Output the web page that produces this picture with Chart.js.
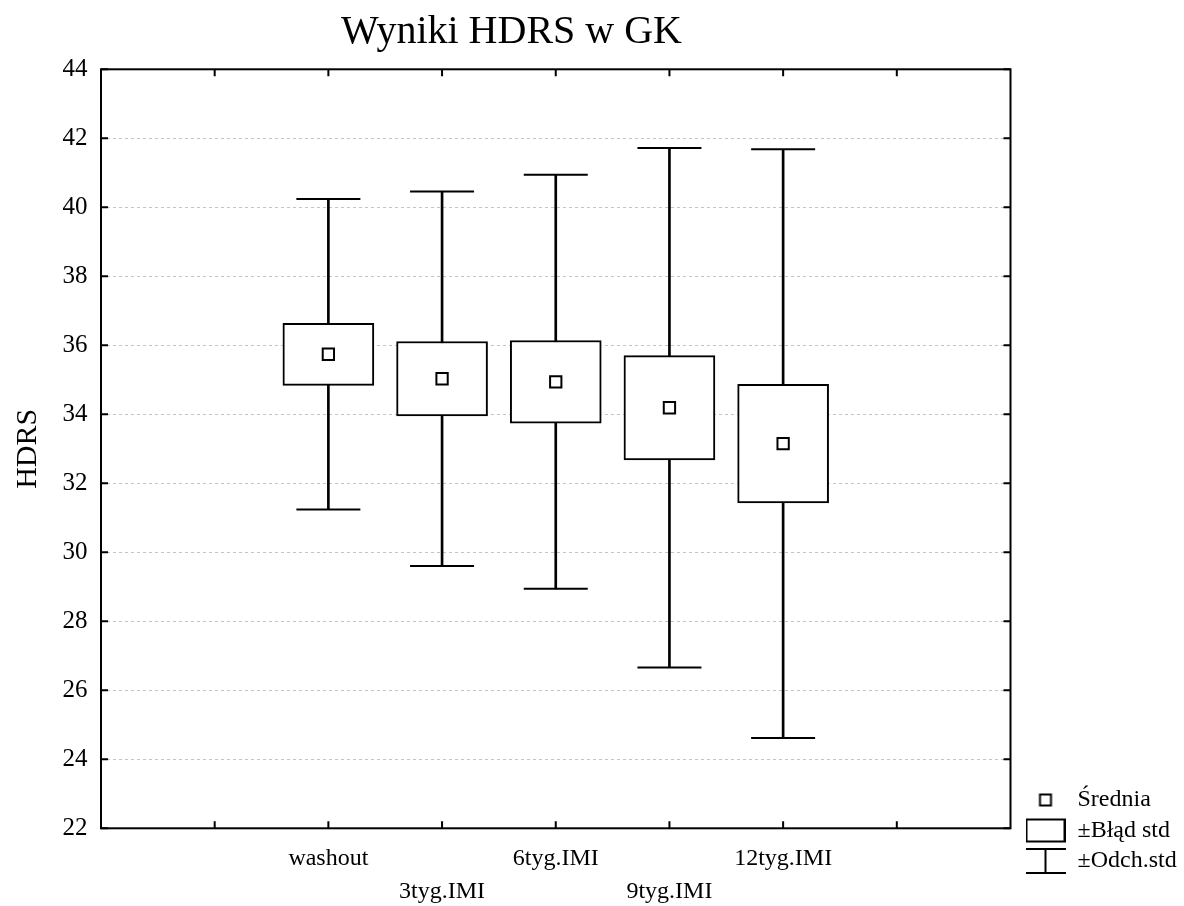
<!DOCTYPE html>
<html>
<head>
<meta charset="utf-8">
<title>Wyniki HDRS w GK</title>
<script src="https://cdn.jsdelivr.net/npm/chart.js@4.4.1/dist/chart.umd.min.js"></script>
<style>
  html, body { margin: 0; padding: 0; background: #fff; }
  #wrap { width: 1184px; height: 906px; }
</style>
</head>
<body>
<div id="wrap"><canvas id="chart" width="1184" height="906"></canvas></div>
<script>
// values: mean, ±standard error box, ±standard deviation whiskers
const categories = ['washout', '3tyg.IMI', '6tyg.IMI', '9tyg.IMI', '12tyg.IMI']
const means = [35.74, 35.03, 34.94, 34.19, 33.15]
const stdErrors = [0.90, 1.08, 1.20, 1.51, 1.72]
const stdDevs = [4.50, 5.43, 6.00, 7.53, 8.53]
const legendLabels = ['Średnia', '±Błąd std', '±Odch.std']

// two empty slots each side of the categories, like the original axis
const slots = ['', ''].concat(categories, ['', ''])

Chart.defaults.font.family = "'Liberation Serif', 'Times New Roman', serif"
Chart.defaults.color = '#000'

// legend symbols
function makeIcon(draw) {
  const c = document.createElement('canvas')
  c.width = 40
  c.height = 26
  const g = c.getContext('2d')
  g.strokeStyle = '#000'
  g.lineWidth = 2
  draw(g)
  return c
}
const legendIcons = [
  makeIcon(g => { g.fillStyle = '#fff'; g.fillRect(14.5, 7.5, 11, 11); g.strokeRect(14.5, 7.5, 11, 11) }),
  makeIcon(g => { g.strokeRect(1, 2, 38, 22) }),
  makeIcon(g => {
    g.beginPath()
    g.moveTo(0, 1); g.lineTo(40, 1)
    g.moveTo(0, 25); g.lineTo(40, 25)
    g.moveTo(20, 1); g.lineTo(20, 25)
    g.stroke()
  })
]

// frame with inward tick marks; title and legend nudged to where the original has them
const framePlugin = {
  id: 'frame',
  afterLayout(chart) {
    const t = chart.titleBlock
    t.left = 0
    t.right = 1023
    t.width = 1023
    const lg = chart.legend
    lg.bottom = 879.5
    lg.height = lg.bottom - lg.top
  },
  afterDatasetsDraw(chart) {
    const {ctx, chartArea: a, scales: {x, y}} = chart
    ctx.save()
    ctx.strokeStyle = '#000'
    ctx.lineWidth = 2
    ctx.beginPath()
    for (let i = 1; i < slots.length - 1; i++) {
      const px = x.getPixelForValue(i)
      ctx.moveTo(px, a.top); ctx.lineTo(px, a.top + 7)
      ctx.moveTo(px, a.bottom); ctx.lineTo(px, a.bottom - 7)
    }
    y.ticks.forEach(t => {
      const py = y.getPixelForValue(t.value)
      ctx.moveTo(a.left, py); ctx.lineTo(a.left + 7, py)
      ctx.moveTo(a.right, py); ctx.lineTo(a.right - 7, py)
    })
    ctx.stroke()
    ctx.strokeRect(a.left, a.top, a.right - a.left, a.bottom - a.top)
    ctx.restore()
  }
}

const ctx = document.getElementById('chart').getContext('2d')

new Chart(ctx, {
  type: 'bar',
  data: {
    labels: slots,
    datasets: [
      {
        type: 'scatter',
        label: 'Średnia',
        data: categories.map((c, i) => ({x: c, y: means[i]})),
        pointStyle: 'rect',
        radius: 8,
        borderWidth: 2,
        borderColor: '#000',
        backgroundColor: '#fff',
        order: 0
      },
      {
        type: 'scatter',
        label: 'caps',
        data: categories.flatMap((c, i) => [
          {x: c, y: means[i] + stdDevs[i]},
          {x: c, y: means[i] - stdDevs[i]}
        ]),
        pointStyle: 'line',
        radius: 32,
        borderWidth: 2,
        borderColor: '#000',
        order: 1
      },
      {
        label: '±Błąd std',
        data: categories.map((c, i) => ({x: c, y: [means[i] - stdErrors[i], means[i] + stdErrors[i]]})),
        barThickness: 91,
        backgroundColor: '#fff',
        borderColor: '#000',
        borderWidth: 2,
        borderSkipped: false,
        grouped: false,
        order: 2
      },
      {
        label: '±Odch.std',
        data: categories.map((c, i) => ({x: c, y: [means[i] - stdDevs[i], means[i] + stdDevs[i]]})),
        barThickness: 2,
        backgroundColor: '#000',
        borderWidth: 0,
        grouped: false,
        order: 3
      }
    ]
  },
  options: {
    responsive: false,
    animation: false,
    events: [],
    layout: {
      padding: 0
    },
    plugins: {
      title: {
        display: true,
        text: 'Wyniki HDRS w GK',
        color: '#000',
        font: {size: 40, weight: 'normal'},
        padding: {top: 8, bottom: 13.3}
      },
      legend: {
        display: true,
        position: 'right',
        align: 'end',
        maxWidth: 165,
        labels: {
          usePointStyle: true,
          pointStyleWidth: 40,
          boxHeight: 24,
          padding: 6.5,
          color: '#000',
          font: {size: 24},
          generateLabels: () => legendLabels.map((text, i) => ({
            text: text,
            pointStyle: legendIcons[i],
            fillStyle: '#fff',
            strokeStyle: '#000',
            lineWidth: 0,
            hidden: false,
            fontColor: '#000',
            datasetIndex: i
          }))
        }
      },
      tooltip: {enabled: false}
    },
    scales: {
      x: {
        type: 'category',
        offset: false,
        grid: {display: false, drawTicks: false, offset: false},
        border: {display: false},
        ticks: {
          autoSkip: false,
          maxRotation: 0,
          minRotation: 0,
          padding: 13.4,
          font: {size: 24, lineHeight: 1.4},
          callback: function (value, index) {
            const label = this.getLabelForValue(value)
            return index % 2 === 1 ? ['', label] : label
          }
        },
        afterFit(scale) { scale.height = 906 - 828.3 }
      },
      y: {
        min: 22,
        max: 44,
        grid: {color: '#c4c4c4', lineWidth: 1, drawTicks: false},
        border: {display: false, dash: [3, 3]},
        ticks: {stepSize: 2, padding: 13.5, font: {size: 25}},
        title: {
          display: true,
          text: 'HDRS',
          font: {size: 30},
          padding: {top: 10, bottom: 0}
        },
        afterFit(scale) { scale.width = 101 }
      },
      y2: {
        position: 'right',
        min: 22,
        max: 44,
        grid: {display: false, drawTicks: false},
        border: {display: false},
        ticks: {display: false},
        afterFit(scale) { scale.width = 1184 - scale.chart.legend.width - 1010.5 }
      }
    }
  },
  plugins: [framePlugin]
})
</script>
</body>
</html>
